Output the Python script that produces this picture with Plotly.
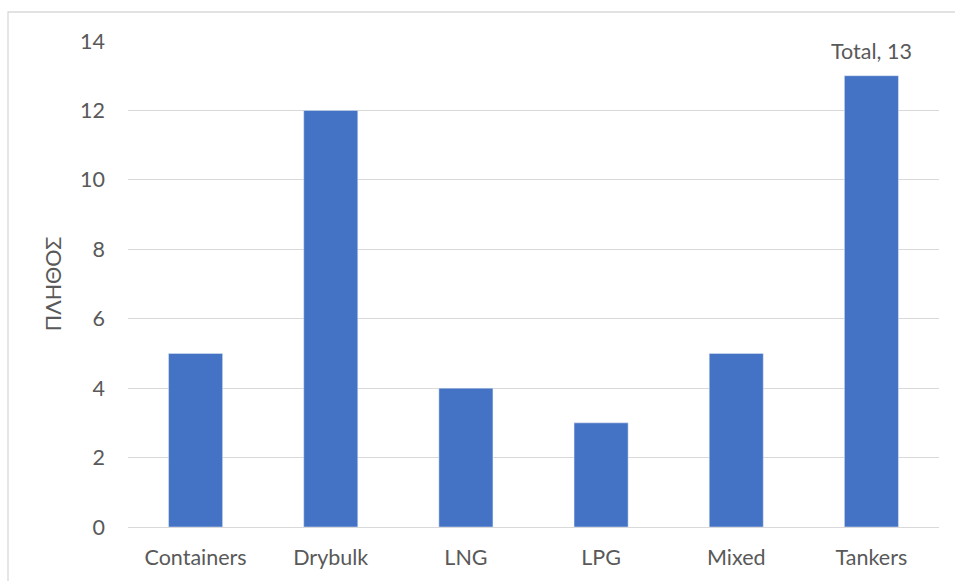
import plotly.graph_objects as go

categories = ["Containers", "Drybulk", "LNG", "LPG", "Mixed", "Tankers"]
counts = [5, 12, 4, 3, 5, 13]
y_ticks = [0, 2, 4, 6, 8, 10, 12, 14]

BAR = "#4472C4"
GRID = "#d9d9d9"
TEXT = "#595959"
FONT = "Lato"
FS = 21.5

W, H = 955, 581
L, R, T, B = 128, 16, 41, 54
pw, ph = W - L - R, H - T - B

fig = go.Figure(go.Bar(x=categories, y=counts, marker_color=BAR, width=0.4))

# total label above the last bar
fig.add_annotation(x=categories[-1], y=counts[-1], text=f"Total, {counts[-1]}",
                   showarrow=False, yanchor="bottom", yshift=10,
                   font=dict(family=FONT, size=FS, color=TEXT))

# chart-area frame
def px_x(p): return (p - L) / pw
def px_y(p): return (H - B - p) / ph
fig.add_shape(type="rect", xref="paper", yref="paper",
              x0=px_x(8), x1=px_x(970), y0=px_y(595), y1=px_y(12),
              line=dict(color=GRID, width=1.3), layer="below")

fig.update_layout(
    width=W, height=H, margin=dict(l=L, r=R, t=T, b=B),
    plot_bgcolor="white", paper_bgcolor="white", showlegend=False,
    font=dict(family=FONT, size=FS, color=TEXT),
    xaxis=dict(showgrid=False, showline=True, linecolor=GRID, linewidth=1.3,
               ticks="", ticklabelstandoff=11, tickfont=dict(size=FS, color=TEXT)),
    yaxis=dict(range=[0, 14], tickvals=y_ticks, showgrid=True, gridcolor=GRID,
               gridwidth=1.3, zeroline=False, showline=False, ticks="",
               ticklabelstandoff=22, tickfont=dict(size=FS, color=TEXT),
               title=dict(text="ΠΛΗΘΟΣ", font=dict(size=FS, color=TEXT), standoff=12)),
)

fig.write_html("out.html")
